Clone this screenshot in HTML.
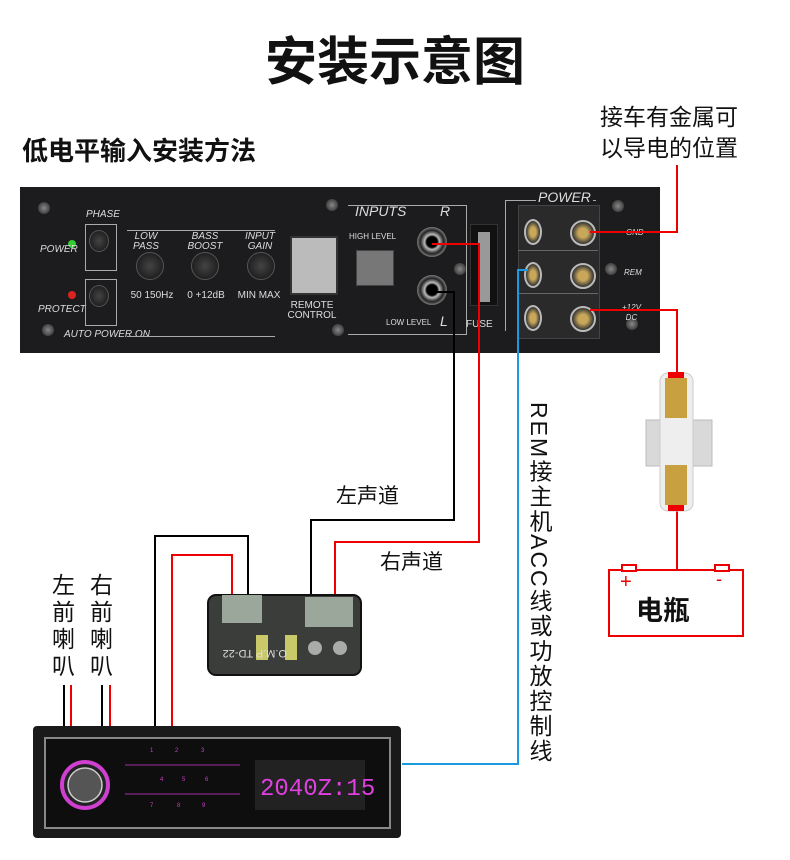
<!DOCTYPE html>
<html><head><meta charset="utf-8"><style>
body{margin:0;width:790px;height:860px;background:#fff;position:relative;overflow:hidden;font-family:"Liberation Sans","Noto Sans CJK SC",sans-serif}
.a{position:absolute}
.w{font-size:10px;color:#ddd;font-style:italic;position:absolute;text-align:center;line-height:10px}
.knob{position:absolute;width:26px;height:26px;border-radius:50%;background:radial-gradient(#444,#111);border:1px solid #555}
.screw{position:absolute;width:12px;height:12px;border-radius:50%;background:radial-gradient(#888,#222);}
.term{position:absolute;width:22px;height:22px;border-radius:50%;background:radial-gradient(#c9a75a 30%,#333 70%);border:2px solid #bbb}
</style></head><body>
<div class="a" style="left:0;width:790px;top:20px;text-align:center;font-size:52px;font-weight:bold;color:#111">安装示意图</div>
<div class="a" style="left:22px;top:131px;font-size:26px;font-weight:bold;color:#111">低电平输入安装方法</div>
<div class="a" style="left:600px;top:102px;font-size:23px;line-height:31px;color:#111;text-align:center">接车有金属可<br>以导电的位置</div>

<div class="a" style="left:20px;top:187px;width:640px;height:166px;background:#1c1c1e"></div>
<div class="screw" style="left:38px;top:202px"></div><div class="screw" style="left:42px;top:324px"></div>
<div class="screw" style="left:326px;top:199px"></div><div class="screw" style="left:332px;top:324px"></div>
<div class="screw" style="left:454px;top:263px"></div><div class="screw" style="left:612px;top:200px"></div>
<div class="screw" style="left:605px;top:263px"></div><div class="screw" style="left:626px;top:318px"></div>
<div class="a" style="left:68px;top:240px;width:8px;height:8px;border-radius:50%;background:#3c3"></div>
<div class="a" style="left:68px;top:291px;width:8px;height:8px;border-radius:50%;background:#d22"></div>
<div class="w" style="left:40px;top:245px">POWER</div><div class="w" style="left:38px;top:305px">PROTECT</div>
<div class="w" style="left:86px;top:210px">PHASE</div><div class="w" style="left:64px;top:330px">AUTO POWER ON</div>
<div class="a" style="left:85px;top:224px;width:30px;height:45px;border:1px solid #aaa"></div>
<div class="a" style="left:85px;top:279px;width:30px;height:45px;border:1px solid #aaa"></div>
<div class="knob" style="left:89px;top:230px;width:18px;height:20px"></div>
<div class="knob" style="left:89px;top:285px;width:18px;height:20px"></div>
<div class="a" style="left:127px;top:230px;width:148px;height:1px;background:#aaa"></div>
<div class="a" style="left:127px;top:336px;width:148px;height:1px;background:#aaa"></div>
<div class="w" style="left:126px;top:232px;width:40px">LOW<br>PASS</div>
<div class="w" style="left:182px;top:232px;width:46px">BASS<br>BOOST</div>
<div class="w" style="left:240px;top:232px;width:40px">INPUT<br>GAIN</div>
<div class="knob" style="left:136px;top:252px"></div><div class="knob" style="left:191px;top:252px"></div><div class="knob" style="left:247px;top:252px"></div>
<div class="w" style="left:122px;top:291px;width:60px;font-style:normal">50 150Hz</div>
<div class="w" style="left:183px;top:291px;width:46px;font-style:normal">0 +12dB</div>
<div class="w" style="left:234px;top:291px;width:50px;font-style:normal">MIN MAX</div>
<div class="a" style="left:290px;top:236px;width:44px;height:55px;background:#bbb;border:2px solid #333"></div>
<div class="w" style="left:284px;top:301px;width:56px;font-style:normal">REMOTE<br>CONTROL</div>
<div class="a" style="left:348px;top:205px;width:118px;height:128px;border:1px solid #aaa;border-left:none"></div>
<div class="w" style="left:355px;top:206px;font-size:14px">INPUTS</div>
<div class="w" style="left:440px;top:206px;font-size:14px">R</div>
<div class="w" style="left:440px;top:316px;font-size:14px">L</div>
<div class="w" style="left:386px;top:318px;font-style:normal;font-size:8px">LOW LEVEL</div>
<div class="w" style="left:349px;top:232px;font-size:8px;font-style:normal">HIGH LEVEL</div>
<div class="a" style="left:356px;top:250px;width:36px;height:34px;background:#777;border:1px solid #444"></div>
<div class="a" style="left:417px;top:227px;width:30px;height:30px;border-radius:50%;background:radial-gradient(#000 25%,#bbb 35%,#222 55%,#777 70%)"></div>
<div class="a" style="left:417px;top:275px;width:30px;height:30px;border-radius:50%;background:radial-gradient(#000 25%,#bbb 35%,#222 55%,#777 70%)"></div>
<div class="a" style="left:470px;top:224px;width:26px;height:80px;background:#111;border:1px solid #333"></div>
<div class="a" style="left:478px;top:232px;width:12px;height:70px;background:#999"></div>
<div class="w" style="left:466px;top:320px;font-style:normal">FUSE</div>
<div class="a" style="left:505px;top:200px;width:90px;height:130px;border-left:1px solid #aaa;border-top:1px solid #aaa"></div>
<div class="w" style="left:536px;top:192px;font-size:14px;background:#1c1c1e;padding:0 2px">POWER</div>
<div class="a" style="left:518px;top:205px;width:80px;height:132px;background:#2a2a2a;border:1px solid #444"></div>
<div class="a" style="left:518px;top:250px;width:80px;height:1px;background:#666"></div>
<div class="a" style="left:518px;top:293px;width:80px;height:1px;background:#666"></div>
<div class="term" style="left:524px;top:219px;width:14px"></div><div class="term" style="left:570px;top:220px"></div>
<div class="term" style="left:524px;top:262px;width:14px"></div><div class="term" style="left:570px;top:263px"></div>
<div class="term" style="left:524px;top:305px;width:14px"></div><div class="term" style="left:570px;top:306px"></div>
<div class="w" style="left:626px;top:228px;font-size:8px">GND</div><div class="w" style="left:624px;top:268px;font-size:8px">REM</div>
<div class="w" style="left:622px;top:303px;font-size:8px">+12V<br>DC</div>

<svg class="a" style="left:0;top:0" width="790" height="860">
<g fill="none" stroke-width="2">
<polyline stroke="#000" points="432,292 454,292 454,520 311,520 311,595"/>
<polyline stroke="#e00" points="432,244 479,244 479,542 335,542 335,595"/>
<polyline stroke="#1a9ae0" points="528,270 518,270 518,764 402,764"/>
<polyline stroke="#e00" points="677,165 677,232 590,232"/>
<polyline stroke="#e00" points="590,310 677,310 677,375"/>
<polyline stroke="#e00" points="677,510 677,570"/>
<polyline stroke="#000" points="155,726 155,536 248,536 248,596"/>
<polyline stroke="#e00" points="172,726 172,555 232,555 232,596"/>
<line stroke="#000" x1="64" y1="685" x2="64" y2="726"/><line stroke="#e00" x1="71" y1="685" x2="71" y2="726"/>
<line stroke="#000" x1="102" y1="685" x2="102" y2="726"/><line stroke="#e00" x1="110" y1="685" x2="110" y2="726"/>
</g>
<rect x="646" y="420" width="66" height="46" fill="#d9d9d9" stroke="#bbb"/>
<rect x="660" y="373" width="33" height="138" rx="8" fill="#eee" stroke="#ccc"/>
<rect x="665" y="378" width="22" height="40" fill="#c9a040"/>
<rect x="665" y="465" width="22" height="40" fill="#c9a040"/>
<rect x="668" y="372" width="16" height="6" fill="#e00"/><rect x="668" y="505" width="16" height="6" fill="#e00"/>
<rect x="609" y="570" width="134" height="66" fill="#fff" stroke="#e00" stroke-width="2"/>
<rect x="622" y="565" width="14" height="6" fill="#fff" stroke="#e00" stroke-width="2"/>
<rect x="715" y="565" width="14" height="6" fill="#fff" stroke="#e00" stroke-width="2"/>
<text x="620" y="588" fill="#e00" font-size="20" font-family="Liberation Sans">+</text>
<text x="716" y="585" fill="#e00" font-size="18" font-family="Liberation Sans">-</text>
<rect x="208" y="595" width="153" height="80" rx="8" fill="#3a3d3a" stroke="#111" stroke-width="2"/>
<rect x="222" y="595" width="40" height="28" fill="#9aa79a"/>
<rect x="305" y="597" width="48" height="30" fill="#9aa79a"/>
<rect x="256" y="635" width="12" height="25" fill="#c9c96a"/><rect x="285" y="635" width="12" height="25" fill="#c9c96a"/>
<circle cx="315" cy="648" r="7" fill="#aaa"/><circle cx="340" cy="648" r="7" fill="#aaa"/>
<text x="263" y="658" fill="#ddd" font-size="11" font-family="Liberation Sans" transform="rotate(180 275 654)">O.M.P TD-22</text>
<rect x="33" y="726" width="368" height="112" rx="4" fill="#1a1a1a"/>
<rect x="45" y="738" width="345" height="90" fill="#0e0e0e" stroke="#888" stroke-width="2"/>
<rect x="255" y="760" width="110" height="50" fill="#222"/>
<circle cx="85" cy="785" r="23" fill="#222" stroke="#d040d0" stroke-width="4"/>
<circle cx="85" cy="785" r="17" fill="#555" stroke="#ccc" stroke-width="1.5"/>
<line x1="125" y1="765" x2="240" y2="765" stroke="#a030a0"/>
<line x1="125" y1="794" x2="240" y2="794" stroke="#a030a0"/>
<text x="260" y="795" fill="#e040e0" font-size="24" font-family="Liberation Mono">2040Z:15</text>
<g fill="#c040c0" font-size="6" font-family="Liberation Sans"><text x="150" y="752">1</text><text x="175" y="752">2</text><text x="201" y="752">3</text><text x="160" y="781">4</text><text x="182" y="781">5</text><text x="205" y="781">6</text><text x="150" y="807">7</text><text x="177" y="807">8</text><text x="202" y="807">9</text></g>
</svg>
<div class="a" style="left:636px;top:589px;font-size:27px;font-weight:bold;color:#111">电瓶</div>
<div class="a" style="left:336px;top:480px;font-size:21px;color:#111">左声道</div>
<div class="a" style="left:380px;top:546px;font-size:21px;color:#111">右声道</div>
<div class="a" style="left:52px;top:572px;width:24px;font-size:23px;line-height:27px;color:#111">左前喇叭</div>
<div class="a" style="left:90px;top:572px;width:24px;font-size:23px;line-height:27px;color:#111">右前喇叭</div>
<div class="a" style="left:526px;top:402px;font-size:23px;line-height:26px;letter-spacing:2px;color:#111;writing-mode:vertical-rl">REM接主机ACC线或功放控制线</div>
</body></html>
